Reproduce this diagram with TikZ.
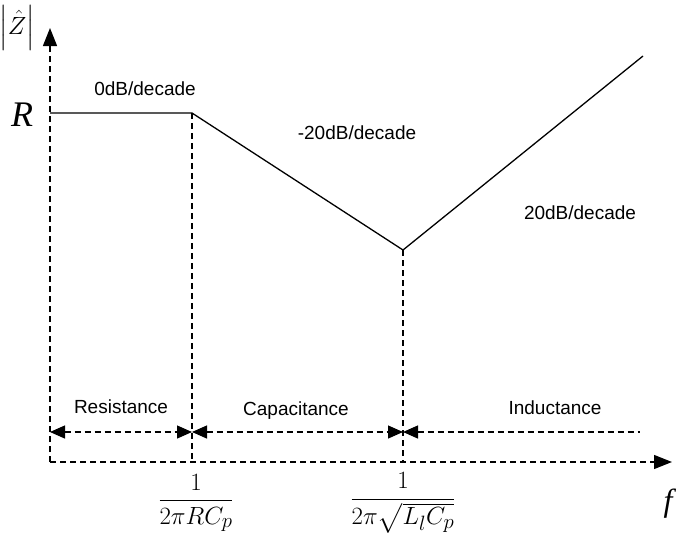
\documentclass[tikz,border=0pt]{standalone}
\usepackage{amsmath}
\usepackage{fontspec}
\setmainfont{Liberation Serif}
\newfontfamily\lab{Liberation Sans}
\usetikzlibrary{arrows.meta}
\begin{document}
\begin{tikzpicture}[x=1pt,y=-1pt,
  dsh/.style={dashed,dash pattern=on 6pt off 4pt,line width=1.3pt},
  tip/.style={-{Triangle[length=18pt,width=14pt]}},
  lbl/.style={font=\lab\fontsize{19}{22}\selectfont},
  frac/.style={font=\fontsize{30}{34}\selectfont}]
\useasboundingbox (0,0) rectangle (685,558);
\coordinate (O) at (50,462);
\coordinate (Ytop) at (50,28);
\coordinate (Xend) at (672,462);
\coordinate (A) at (50,113);
\coordinate (B) at (192,113);
\coordinate (C) at (403,250);
\coordinate (D) at (643,56);
\coordinate (Bb) at (192,462);
\coordinate (Cb) at (403,462);
\coordinate (L) at (50,432);
\coordinate (M1) at (192,432);
\coordinate (M2) at (403,432);
\coordinate (E) at (640,432);
\draw[dsh,tip] (O) -- (Ytop);
\draw[dsh,tip] (O) -- (Xend);
\draw[line width=1.3pt] (A) -- (B) -- (C) -- (D);
\draw[dsh] (B) -- (Bb);
\draw[dsh] (C) -- (Cb);
\draw[dsh,{Triangle[length=15pt,width=13pt]}-{Triangle[length=15pt,width=13pt]}] (L) -- (M1);
\draw[dsh,{Triangle[length=15pt,width=13pt]}-{Triangle[length=15pt,width=13pt]}] (M1) -- (M2);
\draw[dsh,{Triangle[length=15pt,width=13pt]}-] (M2) -- (E);
\node[lbl] (r) at (121,407) {Resistance};
\node[lbl] (c) at (296,411) {Capacitance};
\node[lbl] (i) at (555,408) {Inductance};
\node[lbl] (s0) at (145,89) {0dB/decade};
\node[lbl] (s1) at (357,133) {-20dB/decade};
\node[lbl] (s2) at (580,213) {20dB/decade};
\node[font=\fontsize{36}{40}\selectfont\itshape] (R) at (22,115) {R};
\node[font=\fontsize{24}{28}\selectfont,inner sep=0pt] (Z) at (17,28) {$\left|\hat{Z}\right|$};
\node[font=\fontsize{32}{36}\selectfont\itshape] (f) at (668,504) {f};
\node[frac] (f1) at (196,503) {$\dfrac{1}{2\pi RC_p}$};
\node[frac] (f2) at (403,503) {$\dfrac{1}{2\pi\sqrt{L_lC_p}}$};
\end{tikzpicture}
\end{document}
